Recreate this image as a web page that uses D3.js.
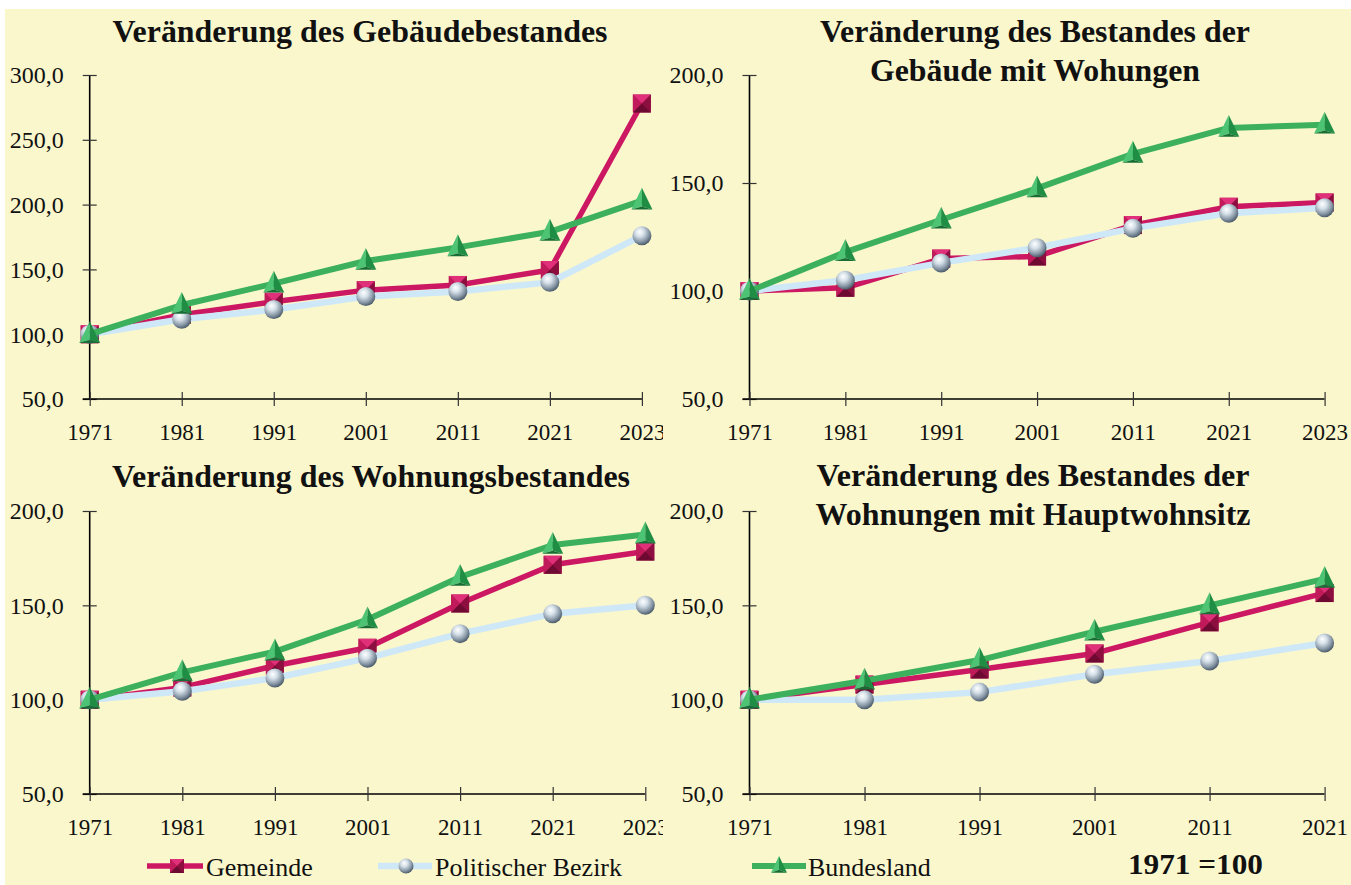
<!DOCTYPE html>
<html lang="de">
<head>
<meta charset="utf-8">
<script src="https://cdn.jsdelivr.net/npm/d3@7"></script>
<style>
  html, body { margin: 0; padding: 0; background: #ffffff; }
  svg { display: block; }
  text { font-family: "Liberation Serif", "Times New Roman", serif; fill: #111; }
</style>
</head>
<body>
<svg id="chart" width="1351" height="885"></svg>
<script>
// Census years (index 1971 = 100)
const years = ["1971", "1981", "1991", "2001", "2011", "2021", "2023"];
const yearsHWS = ["1971", "1981", "1991", "2001", "2011", "2021"];

// Gebäudebestand
const gebGemeinde = [100, 115, 125, 134, 138, 149.5, 278];
const gebBezirk   = [100, 111.5, 119, 129, 133, 140, 176];
const gebLand     = [100, 122.5, 139, 156.5, 167, 179, 203];

// Gebäude mit Wohnungen
const gwGemeinde = [100, 101.5, 115, 116, 130.5, 139, 141];
const gwBezirk   = [100, 105, 113, 120, 129, 136, 138.5];
const gwLand     = [100, 118, 133, 147.5, 163.5, 175.5, 177];

// Wohnungsbestand
const wGemeinde = [100, 106.5, 118, 127.5, 151, 171.5, 178.5];
const wBezirk   = [100, 104.5, 111.5, 122, 135, 145.5, 150];
const wLand     = [100, 114.5, 125.5, 142.5, 165, 182, 187.5];

// Wohnungen mit Hauptwohnsitz
const hwsGemeinde = [100, 108, 116, 124.5, 141, 156.5];
const hwsBezirk   = [100, 100, 104, 113.5, 120.5, 130];
const hwsLand     = [100, 110, 121, 136, 150, 164];

// Axis tick values
const ticksGeb = [50, 100, 150, 200, 250, 300];
const ticksOther = [50, 100, 150, 200];

const seriesNames = ["Gemeinde", "Politischer Bezirk", "Bundesland"];
const footnote = "1971 =100";

const panelTitles = [
  ["Veränderung des Gebäudebestandes"],
  ["Veränderung des Bestandes der", "Gebäude mit Wohungen"],
  ["Veränderung des Wohnungsbestandes"],
  ["Veränderung des Bestandes der", "Wohnungen mit Hauptwohnsitz"]
];

const svg = d3.select("#chart");
const W = 1351, H = 885;

// ---- gradients for the bevelled markers ----
const defs = svg.append("defs");
const sph = defs.append("radialGradient").attr("id", "sphere")
  .attr("cx", "40%").attr("cy", "35%").attr("r", "65%").attr("fx", "38%").attr("fy", "30%");
sph.append("stop").attr("offset", "0%").attr("stop-color", "#ffffff");
sph.append("stop").attr("offset", "35%").attr("stop-color", "#d5e0e8");
sph.append("stop").attr("offset", "75%").attr("stop-color", "#8796a5");
sph.append("stop").attr("offset", "100%").attr("stop-color", "#4e5d6c");

defs.append("clipPath").attr("id", "clipLeft")
  .append("rect").attr("x", 0).attr("y", 0).attr("width", 663).attr("height", H);

// background
svg.append("rect").attr("x", 0).attr("y", 0).attr("width", W).attr("height", H).attr("fill", "#ffffff");
svg.append("rect").attr("x", 5).attr("y", 9).attr("width", W - 5).attr("height", H - 9).attr("fill", "#faf7cd");

const colors = { gem: "#cc1862", bez: "#cfe8f8", land: "#3cb05c" };

// ---- marker painters ----
function squareMarker(g, s) {
  const h = s / 2;
  g.append("rect").attr("x", -h).attr("y", -h).attr("width", s).attr("height", s).attr("fill", "#b0154f");
  const faces = [
    { p: [[-h, -h], [h, -h], [0, 0]], c: "#e0307a" },
    { p: [[-h, -h], [-h, h], [0, 0]], c: "#c01a5a" },
    { p: [[h, -h], [h, h], [0, 0]], c: "#8d0f40" },
    { p: [[-h, h], [h, h], [0, 0]], c: "#6e0a32" }
  ];
  faces.forEach(f => g.append("path").attr("d", "M" + f.p.map(q => q.join(",")).join("L") + "Z").attr("fill", f.c));
}
function sphereMarker(g, s) {
  g.append("circle").attr("r", s / 2).attr("fill", "url(#sphere)");
}
function triangleMarker(g, s) {
  const h = s / 2, top = -s * 0.62, bot = s * 0.42;
  g.append("path").attr("d", `M0,${top}L${-h},${bot}L0,${bot - 3}Z`).attr("fill", "#4cc474");
  g.append("path").attr("d", `M0,${top}L${h},${bot}L0,${bot - 3}Z`).attr("fill", "#1f8d44");
  g.append("path").attr("d", `M${-h},${bot}L${h},${bot}L0,${bot - 3}Z`).attr("fill", "#166e34");
}

const fmt = d => d3.format(".1f")(d).replace(".", ",");

function drawPanel(cfg) {
  const root = svg.append("g");
  if (cfg.clip) root.attr("clip-path", "url(#clipLeft)");

  const x = d3.scalePoint().domain(cfg.cats).range([cfg.x0, cfg.x1]);
  const y = d3.scaleLinear().domain([50, cfg.max]).range([cfg.yb, cfg.yt]);

  // y axis
  const ya = root.append("g").attr("transform", `translate(${cfg.x0},0)`)
    .call(d3.axisLeft(y).tickValues(cfg.ticks).tickFormat(fmt).tickSizeInner(7).tickSizeOuter(0).tickPadding(19));
  ya.select(".domain").attr("stroke", "#000").attr("stroke-width", 1.6)
    .attr("d", `M0,${cfg.yt}V${cfg.yb}`);
  ya.selectAll(".tick line").attr("x2", -7).attr("x1", 7).attr("stroke", "#333").attr("stroke-width", 1.2);
  ya.selectAll(".tick text").attr("font-size", 24).attr("font-family", "Liberation Serif").attr("fill", "#111").attr("dy", "0.33em");

  // x axis
  const xa = root.append("g").attr("transform", `translate(0,${cfg.yb})`)
    .call(d3.axisBottom(x).tickSizeInner(7).tickSizeOuter(0).tickPadding(16));
  xa.select(".domain").attr("stroke", "#000").attr("stroke-width", 1.6)
    .attr("d", `M${cfg.x0 - 7},0H${cfg.x1}`);
  xa.selectAll(".tick line").attr("y1", -7).attr("y2", 7).attr("stroke", "#333").attr("stroke-width", 1.2);
  xa.selectAll(".tick text").attr("font-size", 23).attr("font-family", "Liberation Serif").attr("fill", "#111").attr("dy", "0.78em");

  const line = d3.line().x((d, i) => x(cfg.cats[i])).y(d => y(d));

  const series = [
    { v: cfg.gem, c: colors.gem, w: 5.5, m: squareMarker, s: 18 },
    { v: cfg.bez, c: colors.bez, w: 6.5, m: sphereMarker, s: 19 },
    { v: cfg.land, c: colors.land, w: 6, m: triangleMarker, s: 21 }
  ];
  series.forEach(sr => {
    const g = root.append("g");
    g.append("path").datum(sr.v).attr("d", line).attr("fill", "none")
      .attr("stroke", sr.c).attr("stroke-width", sr.w).attr("stroke-linejoin", "round");
    g.selectAll("g.mk").data(sr.v).join("g").attr("class", "mk")
      .attr("transform", (d, i) => `translate(${x(cfg.cats[i])},${y(d)})`)
      .each(function () { sr.m(d3.select(this), sr.s); });
  });

  // title
  cfg.title.forEach((t, i) => {
    svg.append("text").attr("x", cfg.tx).attr("y", cfg.ty[i]).attr("text-anchor", "middle")
      .attr("font-size", 31.5).attr("font-weight", "bold")
      .attr("textLength", cfg.tl[i]).attr("lengthAdjust", "spacingAndGlyphs").text(t);
  });
}

drawPanel({ cats: years, gem: gebGemeinde, bez: gebBezirk, land: gebLand, ticks: ticksGeb, max: 300,
  x0: 89.7, x1: 641.9, yt: 75, yb: 399, clip: true,
  title: panelTitles[0], tx: 360, ty: [42], tl: [495] });
drawPanel({ cats: years, gem: gwGemeinde, bez: gwBezirk, land: gwLand, ticks: ticksOther, max: 200,
  x0: 749.5, x1: 1324.6, yt: 75, yb: 399, clip: false,
  title: panelTitles[1], tx: 1035, ty: [42, 81], tl: [430, 330] });
drawPanel({ cats: years, gem: wGemeinde, bez: wBezirk, land: wLand, ticks: ticksOther, max: 200,
  x0: 89.7, x1: 645.3, yt: 511, yb: 794, clip: true,
  title: panelTitles[2], tx: 371, ty: [487], tl: [518] });
drawPanel({ cats: yearsHWS, gem: hwsGemeinde, bez: hwsBezirk, land: hwsLand, ticks: ticksOther, max: 200,
  x0: 749.5, x1: 1324.6, yt: 511, yb: 794, clip: false,
  title: panelTitles[3], tx: 1033, ty: [486, 525], tl: [433, 435] });

// ---- legend ----
const legendItems = [
  { name: seriesNames[0], c: colors.gem, w: 5.5, m: squareMarker, s: 14, x0: 147, x1: 203, mx: 177, tx: 206 },
  { name: seriesNames[1], c: colors.bez, w: 6.5, m: sphereMarker, s: 15, x0: 378, x1: 432, mx: 406, tx: 435 },
  { name: seriesNames[2], c: colors.land, w: 6, m: triangleMarker, s: 16, x0: 752, x1: 806, mx: 779, tx: 808 }
];
const lg = svg.append("g");
legendItems.forEach(it => {
  lg.append("line").attr("x1", it.x0).attr("x2", it.x1).attr("y1", 866).attr("y2", 866)
    .attr("stroke", it.c).attr("stroke-width", it.w);
  const mg = lg.append("g").attr("transform", `translate(${it.mx},866)`);
  it.m(mg, it.s);
  lg.append("text").attr("x", it.tx).attr("y", 876).attr("font-size", 26).text(it.name);
});
svg.append("text").attr("x", 1128).attr("y", 874).attr("font-size", 30).attr("font-weight", "bold")
  .attr("textLength", 135).attr("lengthAdjust", "spacingAndGlyphs").text(footnote);
</script>
</body>
</html>
